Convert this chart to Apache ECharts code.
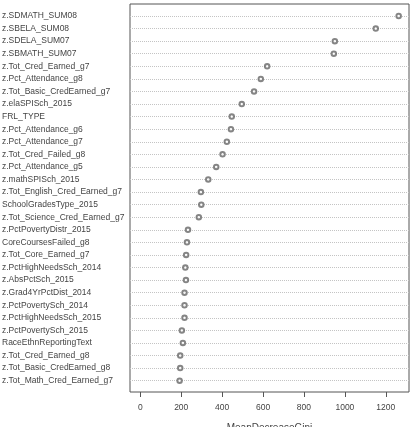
<!DOCTYPE html>
<html>
<head>
<meta charset="utf-8">
<script src="https://cdn.jsdelivr.net/npm/echarts@6/dist/echarts.min.js"></script>
<style>
  html, body { margin: 0; padding: 0; background: #fff; }
  #chart { width: 415px; height: 427px; }
</style>
</head>
<body>
<div id="chart"></div>
<script>
  // variable names, top to bottom
  var varNames = [
    'z.SDMATH_SUM08', 'z.SBELA_SUM08', 'z.SDELA_SUM07', 'z.SBMATH_SUM07',
    'z.Tot_Cred_Earned_g7', 'z.Pct_Attendance_g8', 'z.Tot_Basic_CredEarned_g7',
    'z.elaSPISch_2015', 'FRL_TYPE', 'z.Pct_Attendance_g6', 'z.Pct_Attendance_g7',
    'z.Tot_Cred_Failed_g8', 'z.Pct_Attendance_g5', 'z.mathSPISch_2015',
    'z.Tot_English_Cred_Earned_g7', 'SchoolGradesType_2015',
    'z.Tot_Science_Cred_Earned_g7', 'z.PctPovertyDistr_2015', 'CoreCoursesFailed_g8',
    'z.Tot_Core_Earned_g7', 'z.PctHighNeedsSch_2014', 'z.AbsPctSch_2015',
    'z.Grad4YrPctDist_2014', 'z.PctPovertySch_2014', 'z.PctHighNeedsSch_2015',
    'z.PctPovertySch_2015', 'RaceEthnReportingText', 'z.Tot_Cred_Earned_g8',
    'z.Tot_Basic_CredEarned_g8', 'z.Tot_Math_Cred_Earned_g7'
  ];
  // importance values (MeanDecreaseGini)
  var importance = [
    1263, 1151, 951, 946,
    620, 589, 556,
    496, 447, 443, 423,
    402, 371, 332,
    296, 298,
    286, 233, 228,
    224, 220, 223,
    216, 216, 216,
    203, 208, 195,
    195, 192
  ];
  var xTicks = [0, 200, 400, 600, 800, 1000, 1200];

  var xMin = -50.5, xMax = 1313.5;
  var fontFam = '"Liberation Sans Narrow", "Liberation Sans", Arial, sans-serif';

  var myChart = echarts.init(document.getElementById('chart'));
  myChart.setOption({
    animation: false,
    grid: [
      { left: 130, right: 6, top: 4, bottom: 35, outerBoundsMode: 'none', show: true, borderColor: '#555', borderWidth: 1 },
      { left: 130, right: 6, top: 16, bottom: 46.3, outerBoundsMode: 'none' }
    ],
    xAxis: [
      {
        gridIndex: 0,
        type: 'value',
        min: xMin,
        max: xMax,
        name: 'MeanDecreaseGini',
        nameLocation: 'middle',
        nameGap: 31,
        nameTextStyle: { color: '#444', fontSize: 10, fontFamily: fontFam },
        axisLine: { show: false },
        splitLine: { show: false },
        axisTick: {
          show: true,
          length: 5,
          customValues: xTicks,
          lineStyle: { color: '#555' }
        },
        axisLabel: {
          show: true,
          customValues: xTicks,
          margin: 11,
          color: '#444',
          fontSize: 8.5,
          fontFamily: fontFam,
          formatter: function (v) { return String(v); }
        }
      },
      {
        gridIndex: 1,
        type: 'value',
        min: xMin,
        max: xMax,
        show: false
      }
    ],
    yAxis: [
      {
        gridIndex: 0,
        type: 'value',
        show: false
      },
      {
        gridIndex: 1,
        type: 'category',
        inverse: true,
        boundaryGap: false,
        data: varNames,
        axisLine: { show: false },
        axisTick: { show: false },
        axisLabel: {
          interval: 0,
          align: 'left',
          margin: 128,
          color: '#444',
          fontSize: 8.5,
          fontFamily: fontFam
        },
        splitLine: {
          show: true,
          lineStyle: { color: '#c4c4c4', type: 'dotted', width: 1 }
        }
      }
    ],
    series: [{
      type: 'scatter',
      xAxisIndex: 1,
      yAxisIndex: 1,
      data: importance,
      symbol: 'emptyCircle',
      symbolSize: 4.5,
      itemStyle: { color: '#666', borderWidth: 0.8 }
    }]
  });
</script>
</body>
</html>
